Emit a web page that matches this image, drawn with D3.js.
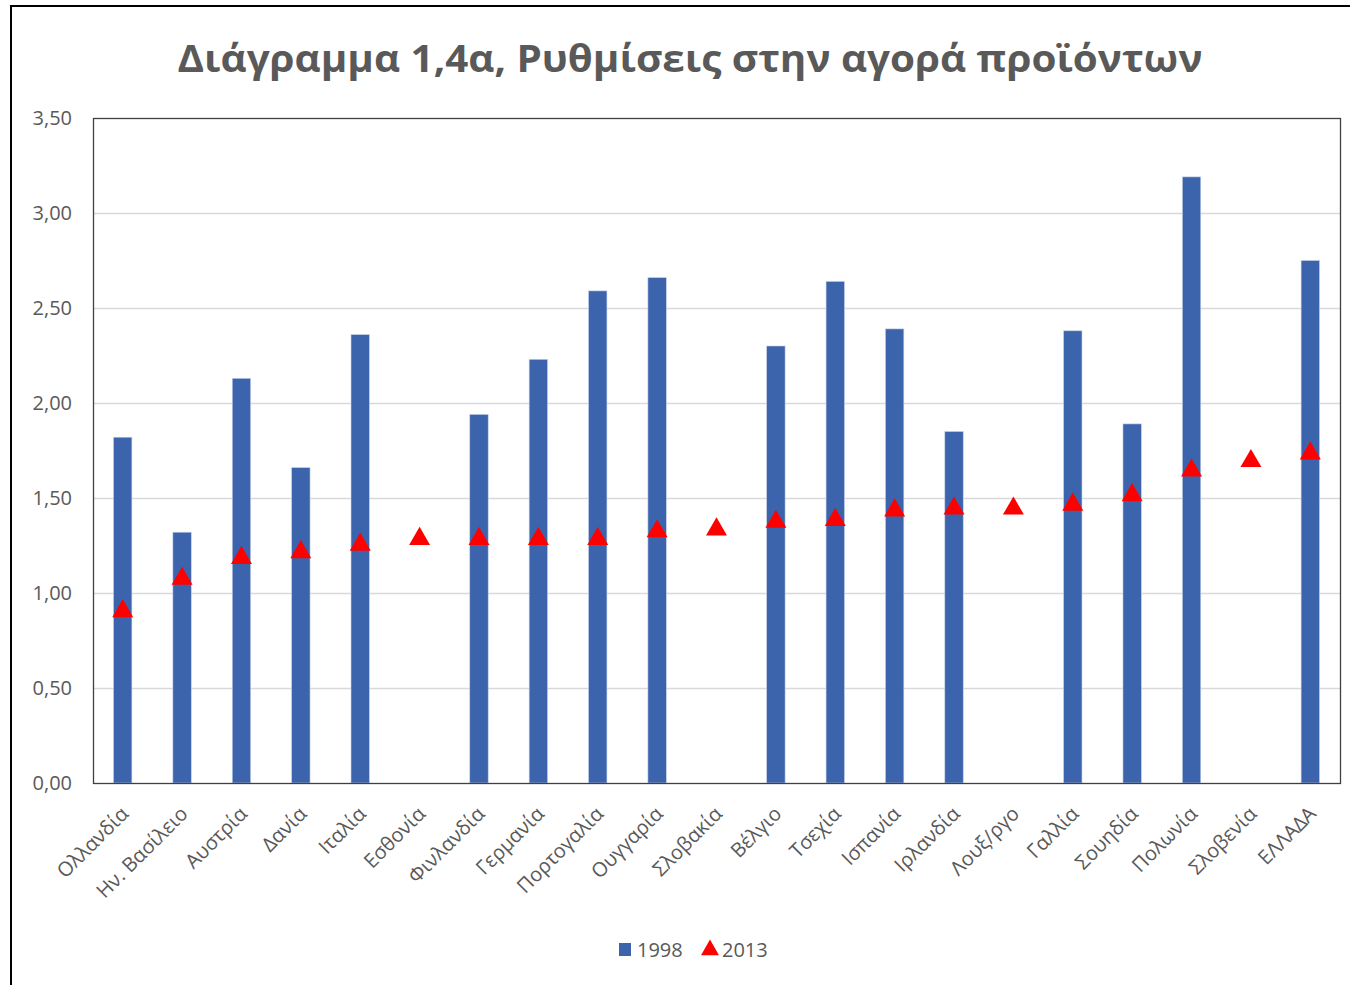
<!DOCTYPE html>
<html>
<head>
<meta charset="utf-8">
<script src="https://d3js.org/d3.v7.min.js"></script>
<style>
  body { margin: 0; background: #fff; }
  text { font-family: "Open Sans", "Noto Sans", sans-serif; }
</style>
</head>
<body>
<svg id="chart"></svg>
<script>
// categories and values
var countries = ["Ολλανδία", "Ην. Βασίλειο", "Αυστρία", "Δανία", "Ιταλία", "Εσθονία",
  "Φινλανδία", "Γερμανία", "Πορτογαλία", "Ουγγαρία", "Σλοβακία", "Βέλγιο", "Τσεχία",
  "Ισπανία", "Ιρλανδία", "Λουξ/ργο", "Γαλλία", "Σουηδία", "Πολωνία", "Σλοβενία", "ΕΛΛΑΔΑ"];
var values1998 = [1.82, 1.32, 2.13, 1.66, 2.36, null, 1.94, 2.23, 2.59, 2.66, null, 2.30, 2.64,
  2.39, 1.85, null, 2.38, 1.89, 3.19, null, 2.75];
var values2013 = [0.91, 1.08, 1.19, 1.22, 1.26, 1.29, 1.29, 1.29, 1.29, 1.33, 1.34, 1.38, 1.39,
  1.44, 1.45, 1.45, 1.47, 1.52, 1.65, 1.70, 1.74];
var yTicks = [0, 0.5, 1, 1.5, 2, 2.5, 3, 3.5];
var seriesNames = ["1998", "2013"];

var W = 1350, H = 985;
var margin = {top: 118, right: 10, bottom: 202, left: 93};
var width = 1340 - margin.left,
    height = 783 - margin.top;

var svg = d3.select("#chart").attr("width", W).attr("height", H);

// outer chart frame
svg.append("rect")
  .attr("x", 11).attr("y", 6)
  .attr("width", W + 20).attr("height", H + 20)
  .attr("fill", "#fff").attr("stroke", "#000").attr("stroke-width", 2);

svg.append("text")
  .attr("x", 690).attr("y", 72)
  .attr("text-anchor", "middle")
  .attr("fill", "#595959")
  .attr("textLength", 1025).attr("lengthAdjust", "spacingAndGlyphs")
  .style("font-size", "37px").style("font-weight", "bold")
  .text("Διάγραμμα 1,4α, Ρυθμίσεις στην αγορά προϊόντων");

var g = svg.append("g")
  .attr("transform", "translate(" + margin.left + "," + margin.top + ")");

var x = d3.scaleBand().domain(countries).range([0, width]);
var y = d3.scaleLinear().domain([0, 3.5]).range([height, 0]);

// gridlines
g.selectAll(".grid").data(yTicks.slice(1, -1)).enter().append("line")
  .attr("x1", 0).attr("x2", width)
  .attr("y1", function(d) { return Math.round(y(d)) + 0.5; })
  .attr("y2", function(d) { return Math.round(y(d)) + 0.5; })
  .attr("stroke", "#d9d9d9").attr("stroke-width", 1.3);

// y axis labels
var yAxis = g.append("g")
  .call(d3.axisLeft(y).tickValues(yTicks).tickSize(0).tickPadding(21)
    .tickFormat(function(d) { return d3.format(".2f")(d).replace(".", ","); }));
yAxis.select(".domain").remove();
yAxis.selectAll("text").attr("fill", "#595959").style("font-size", "20px");

// bars
var barW = x.bandwidth() * 0.31;
g.selectAll(".bar").data(countries).enter()
  .filter(function(d, i) { return values1998[i] != null; })
  .append("rect")
  .attr("x", function(d) { return x(d) + (x.bandwidth() - barW) / 2; })
  .attr("y", function(d) { return y(values1998[countries.indexOf(d)]); })
  .attr("width", barW)
  .attr("height", function(d) { return height - y(values1998[countries.indexOf(d)]); })
  .attr("fill", "#3c64ad")
  .attr("stroke", "#c5d1ea").attr("stroke-width", 0.6);

// triangles
var tri = d3.symbol().type(d3.symbolTriangle).size(190);
g.selectAll(".tri").data(values2013).enter().append("path")
  .attr("d", tri)
  .attr("transform", function(d, i) {
    return "translate(" + (x(countries[i]) + x.bandwidth() / 2) + "," + (y(d) + 1) + ")";
  })
  .attr("fill", "#ff0000");

// plot border
g.append("rect")
  .attr("x", 0.5).attr("y", 0.5).attr("width", width).attr("height", height)
  .attr("fill", "none").attr("stroke", "#404040").attr("stroke-width", 1.3);

// x labels rotated
var xAxis = g.append("g")
  .attr("transform", "translate(0," + height + ")")
  .call(d3.axisBottom(x).tickSize(0).tickPadding(0));
xAxis.select(".domain").remove();
xAxis.selectAll("text")
  .attr("fill", "#595959").style("font-size", "20px")
  .attr("text-anchor", "end")
  .attr("dy", null).attr("y", 0)
  .attr("transform", "translate(7,32) rotate(-45)");

// legend
var leg = svg.append("g").attr("transform", "translate(619,950)");
leg.append("rect").attr("x", 0).attr("y", -7).attr("width", 12).attr("height", 13)
  .attr("fill", "#3c64ad");
leg.append("text").attr("x", 18).attr("y", 7).attr("fill", "#595959")
  .style("font-size", "20px").text(seriesNames[0]);
leg.append("path").attr("d", d3.symbol().type(d3.symbolTriangle).size(140))
  .attr("transform", "translate(91,0)").attr("fill", "#ff0000");
leg.append("text").attr("x", 103).attr("y", 7).attr("fill", "#595959")
  .style("font-size", "20px").text(seriesNames[1]);
</script>
</body>
</html>
